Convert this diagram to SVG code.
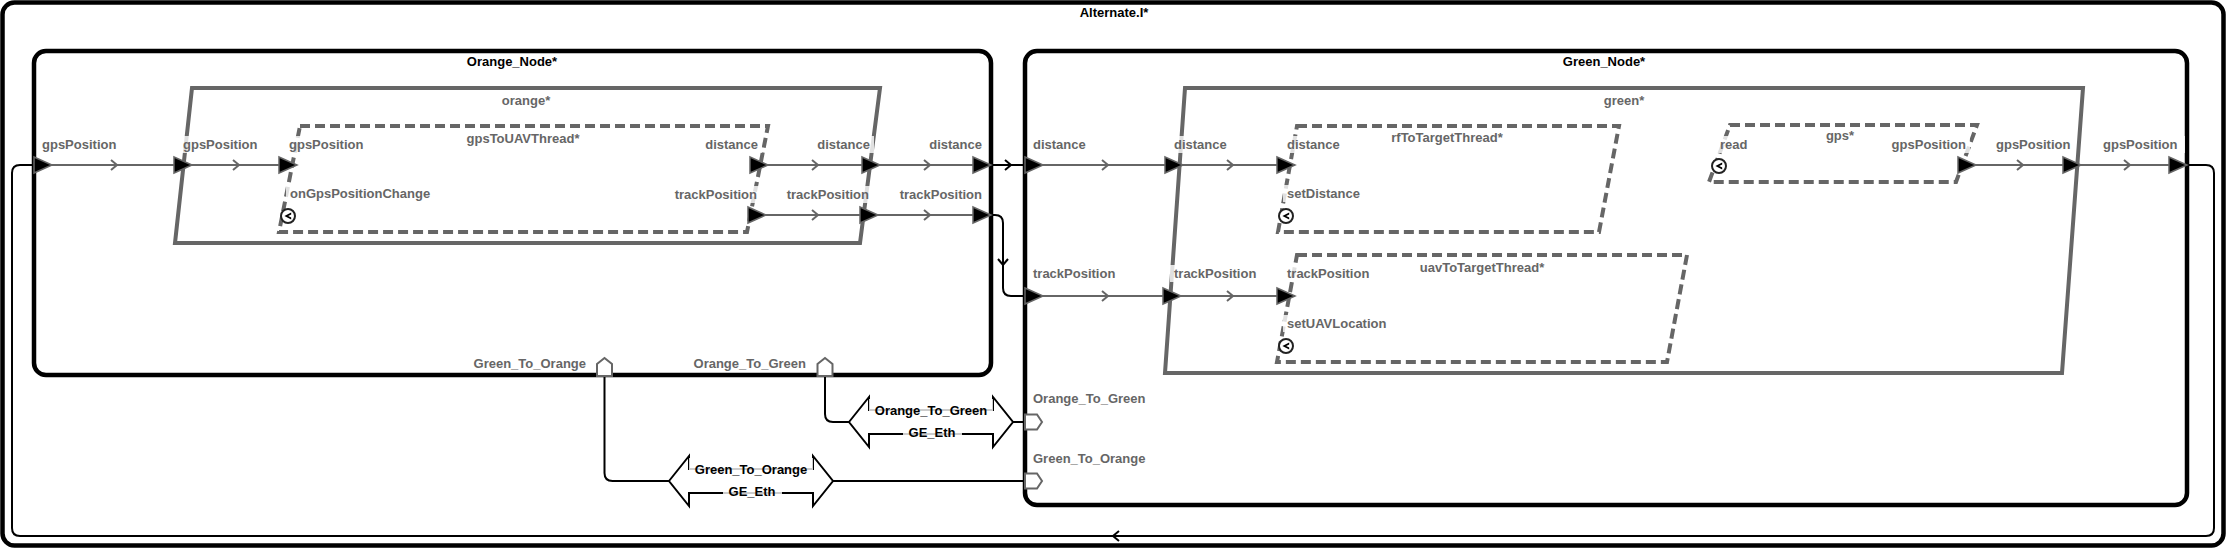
<svg xmlns="http://www.w3.org/2000/svg" xmlns:xlink="http://www.w3.org/1999/xlink" width="2228" height="548" viewBox="0 0 2228 548">
<style>
.nd{fill:none;stroke:#000;stroke-width:4.5}
.pr{fill:none;stroke:#666;stroke-width:4}
.th{fill:none;stroke:#666;stroke-width:4;stroke-dasharray:10 5}
.t{font-family:"Liberation Sans",Arial,sans-serif;font-weight:bold;font-size:13px}
.tb{fill:#000}
.tg{fill:#666}
.lb{fill:#fff;fill-opacity:.8}
.cg{fill:none;stroke:#666;stroke-width:2}
.cb{fill:none;stroke:#000;stroke-width:2}
.ba{fill:#fff;stroke:#000;stroke-width:2}
.fp{fill:#fff;stroke:#666;stroke-width:2}
</style>
<defs>
<path id="tri" d="M0,-8 L18,0 L0,8 Z" fill="#000" stroke="#666" stroke-width="1.5"/>
<path id="chev" d="M-3,-5 L3,0 L-3,5" fill="none" stroke-width="2"/>
<g id="evt"><circle r="7" fill="#fff" stroke="#222" stroke-width="2"/><path d="M3.2,-3.6 L-3.6,0 L3.2,3.6 L3.2,1.6 L0.2,0 L3.2,-1.6 Z" fill="#000"/></g>
</defs>

<g id="Alternate">
<rect class="nd" x="2.5" y="2.5" width="2221" height="543" rx="12"/>
<text class="t tb" x="1114" y="17" text-anchor="middle">Alternate.I*</text>
</g>

<g id="Orange_Node">
<rect class="nd" x="34" y="51" width="957" height="324" rx="12"/>
<text class="t tb" x="512" y="66" text-anchor="middle">Orange_Node*</text>
</g>
<g id="orange">
<path class="pr" d="M192,88 L880,88 L860,243 L175,243 Z"/>
<text class="t tg" x="526" y="105" text-anchor="middle">orange*</text>
</g>
<g id="gpsToUAVThread">
<path class="th" d="M300,126 L768,126 L747,232 L279,232 Z"/>
<text class="t tg" x="523" y="143" text-anchor="middle">gpsToUAVThread*</text>
</g>

<g id="Green_Node">
<rect class="nd" x="1025" y="51" width="1162" height="454" rx="12"/>
<text class="t tb" x="1604" y="66" text-anchor="middle">Green_Node*</text>
</g>
<g id="green">
<path class="pr" d="M1185,88 L2083,88 L2062,373 L1165,373 Z"/>
<text class="t tg" x="1624" y="105" text-anchor="middle">green*</text>
</g>
<g id="rfToTargetThread">
<path class="th" d="M1297,126 L1619,126 L1599,232 L1278,232 Z"/>
<text class="t tg" x="1447" y="142" text-anchor="middle">rfToTargetThread*</text>
</g>
<g id="uavToTargetThread">
<path class="th" d="M1297,255 L1687,255 L1667,362 L1277,362 Z"/>
<text class="t tg" x="1482" y="272" text-anchor="middle">uavToTargetThread*</text>
</g>
<g id="gps">
<path class="th" d="M1730,125 L1977,125 L1956,182 L1709,182 Z"/>
<text class="t tg" x="1840" y="140" text-anchor="middle">gps*</text>
</g>

<g id="connectors">
<path class="cg" d="M34,165 L296,165"/>
<path class="cg" d="M750,165 L991,165"/>
<path class="cg" d="M748,215 L991,215"/>
<path class="cg" d="M1025,165 L1295,165"/>
<path class="cg" d="M1025,296 L1295,296"/>
<path class="cg" d="M1958,165 L2187,165"/>
<path class="cb" d="M991,165 L1025,165"/>
<path class="cb" d="M991,215 L995,215 Q1003,215 1003,223 L1003,288 Q1003,296 1011,296 L1025,296"/>
<path class="cb" d="M2187,165 L2206,165 Q2214,165 2214,173 L2214,528 Q2214,536 2206,536 L20,536 Q12,536 12,528 L12,173 Q12,165 20,165 L34,165"/>
<path class="cb" d="M825,376 L825,414 Q825,422 833,422 L849,422"/>
<path class="cb" d="M1013,422 L1025,422"/>
<path class="cb" d="M604.5,376 L604.5,473 Q604.5,481 612.5,481 L669,481"/>
<path class="cb" d="M833,481 L1025,481"/>
<g stroke="#666">
<use xlink:href="#chev" x="114" y="165"/>
<use xlink:href="#chev" x="236" y="165"/>
<use xlink:href="#chev" x="815" y="165"/>
<use xlink:href="#chev" x="927" y="165"/>
<use xlink:href="#chev" x="815" y="215"/>
<use xlink:href="#chev" x="927" y="215"/>
<use xlink:href="#chev" x="1105" y="165"/>
<use xlink:href="#chev" x="1230" y="165"/>
<use xlink:href="#chev" x="1105" y="296"/>
<use xlink:href="#chev" x="1230" y="296"/>
<use xlink:href="#chev" x="2020" y="165"/>
<use xlink:href="#chev" x="2127" y="165"/>
</g>
<g stroke="#000">
<use xlink:href="#chev" x="1008" y="165"/>
<use xlink:href="#chev" transform="translate(1003,262) rotate(90)"/>
<use xlink:href="#chev" transform="translate(1116,536) rotate(180)"/>
</g>
</g>

<g id="bus_Orange_To_Green">
<path class="ba" d="M849,422 L869,397 L869,410 L993,410 L993,397 L1013,422 L993,447 L993,434 L869,434 L869,447 Z"/>
<rect class="lb" x="869" y="399" width="124" height="19"/>
<text class="t tb" x="931" y="415" text-anchor="middle">Orange_To_Green</text>
<rect class="lb" x="903" y="424" width="59" height="16"/>
<text class="t tb" x="932" y="437" text-anchor="middle">GE_Eth</text>
</g>
<g id="bus_Green_To_Orange">
<path class="ba" d="M669,481 L689,456 L689,469 L813,469 L813,456 L833,481 L813,506 L813,493 L689,493 L689,506 Z"/>
<rect class="lb" x="689" y="458" width="124" height="19"/>
<text class="t tb" x="751" y="474" text-anchor="middle">Green_To_Orange</text>
<rect class="lb" x="723" y="483" width="59" height="16"/>
<text class="t tb" x="752" y="496" text-anchor="middle">GE_Eth</text>
</g>

<g id="ports">
<use xlink:href="#tri" x="34" y="165"/>
<use xlink:href="#tri" x="174" y="165"/>
<use xlink:href="#tri" x="279" y="165"/>
<use xlink:href="#tri" x="750" y="165"/>
<use xlink:href="#tri" x="862" y="165"/>
<use xlink:href="#tri" x="973" y="165"/>
<use xlink:href="#tri" x="748" y="215"/>
<use xlink:href="#tri" x="860" y="215"/>
<use xlink:href="#tri" x="973" y="215"/>
<use xlink:href="#tri" x="1025" y="165"/>
<use xlink:href="#tri" x="1165" y="165"/>
<use xlink:href="#tri" x="1277" y="165"/>
<use xlink:href="#tri" x="1025" y="296"/>
<use xlink:href="#tri" x="1163" y="296"/>
<use xlink:href="#tri" x="1277" y="296"/>
<use xlink:href="#tri" x="1958" y="165"/>
<use xlink:href="#tri" x="2063" y="165"/>
<use xlink:href="#tri" x="2169" y="165"/>
<use xlink:href="#evt" x="288" y="216"/>
<use xlink:href="#evt" x="1286" y="216"/>
<use xlink:href="#evt" x="1286" y="346"/>
<use xlink:href="#evt" x="1719" y="166"/>
<path class="fp" d="M597,376 L597,364 L604.5,358 L612,364 L612,376 Z"/>
<path class="fp" d="M817.5,376 L817.5,364 L825,358 L832.5,364 L832.5,376 Z"/>
<path class="fp" d="M1025,414.5 L1037,414.5 L1042,422 L1037,429.5 L1025,429.5 Z"/>
<path class="fp" d="M1025,473.5 L1037,473.5 L1042,481 L1037,488.5 L1025,488.5 Z"/>
</g>

<g id="labels">
<rect class="lb" x="38" y="136" width="82" height="17"/>
<text class="t tg" x="42" y="149">gpsPosition</text>
<rect class="lb" x="179" y="136" width="82" height="17"/>
<text class="t tg" x="183" y="149">gpsPosition</text>
<rect class="lb" x="285" y="136" width="82" height="17"/>
<text class="t tg" x="289" y="149">gpsPosition</text>
<rect class="lb" x="286" y="185" width="148" height="17"/>
<text class="t tg" x="290" y="198">onGpsPositionChange</text>
<rect class="lb" x="701" y="136" width="61" height="17"/>
<text class="t tg" x="758" y="149" text-anchor="end">distance</text>
<rect class="lb" x="671" y="186" width="90" height="17"/>
<text class="t tg" x="757" y="199" text-anchor="end">trackPosition</text>
<rect class="lb" x="813" y="136" width="61" height="17"/>
<text class="t tg" x="870" y="149" text-anchor="end">distance</text>
<rect class="lb" x="783" y="186" width="90" height="17"/>
<text class="t tg" x="869" y="199" text-anchor="end">trackPosition</text>
<rect class="lb" x="925" y="136" width="62" height="17"/>
<text class="t tg" x="982" y="149" text-anchor="end">distance</text>
<rect class="lb" x="896" y="186" width="91" height="17"/>
<text class="t tg" x="982" y="199" text-anchor="end">trackPosition</text>
<rect class="lb" x="469" y="355" width="121" height="17"/>
<text class="t tg" x="586" y="368" text-anchor="end">Green_To_Orange</text>
<rect class="lb" x="689" y="355" width="121" height="17"/>
<text class="t tg" x="806" y="368" text-anchor="end">Orange_To_Green</text>

<rect class="lb" x="1029" y="136" width="61" height="17"/>
<text class="t tg" x="1033" y="149">distance</text>
<rect class="lb" x="1170" y="136" width="61" height="17"/>
<text class="t tg" x="1174" y="149">distance</text>
<rect class="lb" x="1283" y="136" width="61" height="17"/>
<text class="t tg" x="1287" y="149">distance</text>
<rect class="lb" x="1029" y="265" width="90" height="17"/>
<text class="t tg" x="1033" y="278">trackPosition</text>
<rect class="lb" x="1170" y="265" width="90" height="17"/>
<text class="t tg" x="1174" y="278">trackPosition</text>
<rect class="lb" x="1283" y="265" width="90" height="17"/>
<text class="t tg" x="1287" y="278">trackPosition</text>
<rect class="lb" x="1283" y="185" width="81" height="17"/>
<text class="t tg" x="1287" y="198">setDistance</text>
<rect class="lb" x="1283" y="315" width="114" height="17"/>
<text class="t tg" x="1287" y="328">setUAVLocation</text>
<rect class="lb" x="1716" y="136" width="36" height="17"/>
<text class="t tg" x="1720" y="149">read</text>
<rect class="lb" x="1888" y="136" width="82" height="17"/>
<text class="t tg" x="1966" y="149" text-anchor="end">gpsPosition</text>
<rect class="lb" x="1992" y="136" width="82" height="17"/>
<text class="t tg" x="1996" y="149">gpsPosition</text>
<rect class="lb" x="2099" y="136" width="86" height="17"/>
<text class="t tg" x="2103" y="149">gpsPosition</text>
<rect class="lb" x="1029" y="390" width="121" height="17"/>
<text class="t tg" x="1033" y="403">Orange_To_Green</text>
<rect class="lb" x="1029" y="450" width="121" height="17"/>
<text class="t tg" x="1033" y="463">Green_To_Orange</text>
</g>
</svg>
